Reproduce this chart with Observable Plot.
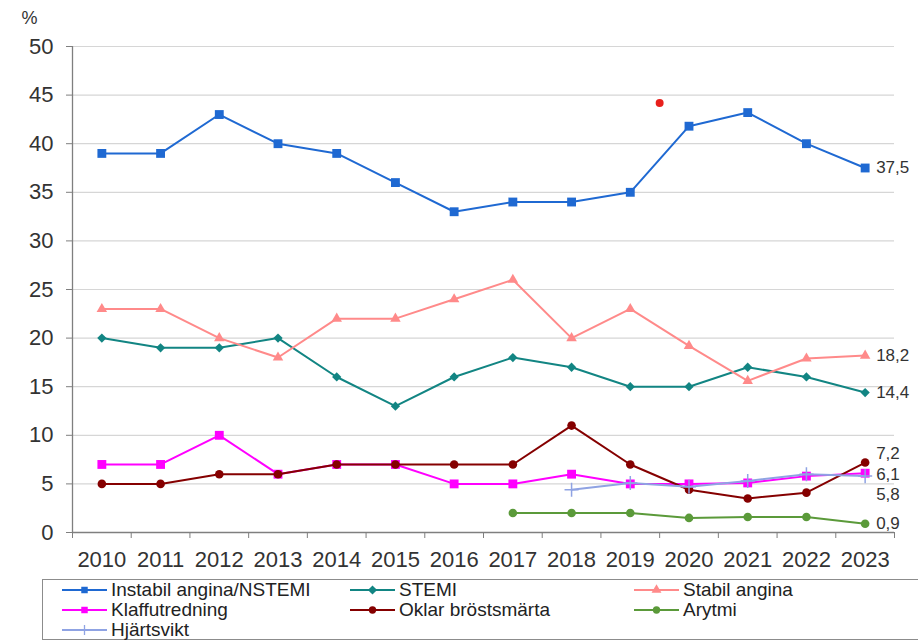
<!DOCTYPE html>
<html>
<head>
<meta charset="utf-8">
<script src="https://cdn.jsdelivr.net/npm/d3@7"></script>
<script src="https://cdn.jsdelivr.net/npm/@observablehq/plot@0.6"></script>
<style>
  body { margin: 0; background: #fff; font-family: "Liberation Sans", Arial, sans-serif; }
  #wrap { position: relative; width: 918px; height: 641px; overflow: hidden; }
  #chart { position: absolute; left: 0; top: 0; }
  #legend { position: absolute; left: 42px; top: 579px; width: 890px; height: 61px; border: 1px solid #8c8c8c; box-sizing: border-box; }
  .item { position: absolute; display: flex; align-items: center; height: 20px; }
  .item span { display: inline-block; font-size: 19px; color: #222; white-space: nowrap; margin-left: 3px; }
</style>
</head>
<body>
<div id="wrap"><div id="chart"></div><div id="legend"></div></div>
<script>
const years = [2010, 2011, 2012, 2013, 2014, 2015, 2016, 2017, 2018, 2019, 2020, 2021, 2022, 2023];
const seriesNames = ["Instabil angina/NSTEMI", "STEMI", "Stabil angina", "Klaffutredning", "Oklar bröstsmärta", "Arytmi", "Hjärtsvikt"];
const seriesColors = ["#1f69d2", "#128583", "#ff8a8a", "#ff00ff", "#850000", "#5b9a3a", "#8fa3e3"];
const seriesSymbols = ["square", "diamond", "triangle", "square", "circle", "circle", "plus"];
const instabil = [39, 39, 43, 40, 39, 36, 33, 34, 34, 35, 41.8, 43.2, 40, 37.5];
const stemi = [20, 19, 19, 20, 16, 13, 16, 18, 17, 15, 15, 17, 16, 14.4];
const stabil = [23, 23, 20, 18, 22, 22, 24, 26, 20, 23, 19.2, 15.6, 17.9, 18.2];
const klaff = [7, 7, 10, 6, 7, 7, 5, 5, 6, 5, 5, 5.1, 5.8, 6.1];
const oklar = [5, 5, 6, 6, 7, 7, 7, 7, 11, 7, 4.4, 3.5, 4.1, 7.2];
const arytmi = [null, null, null, null, null, null, null, 2, 2, 2, 1.5, 1.6, 1.6, 0.9];
const hjartsvikt = [null, null, null, null, null, null, null, null, 4.4, 5.1, 4.7, 5.3, 6.0, 5.8];
const endLabels = ["37,5", "14,4", "18,2", "6,1", "7,2", "0,9", "5,8"];
const endLabelShift = [0, 0, 0, 1, -9, 0, 18];
const strayPoint = [{year: 2019.5, value: 44.2}];
const yTicks = [0, 5, 10, 15, 20, 25, 30, 35, 40, 45, 50];
const xBoundaries = [2009.5, 2010.5, 2011.5, 2012.5, 2013.5, 2014.5, 2015.5, 2016.5, 2017.5, 2018.5, 2019.5, 2020.5, 2021.5, 2022.5, 2023.5];

const allValues = [instabil, stemi, stabil, klaff, oklar, arytmi, hjartsvikt];
const rows = [];
allValues.forEach((vals, si) => vals.forEach((v, i) => {
  if (v != null) rows.push({series: seriesNames[si], year: years[i], value: v});
}));
const ends = allValues.map((vals, si) => ({series: seriesNames[si], year: years[years.length - 1], value: vals[vals.length - 1], text: endLabels[si], shift: endLabelShift[si]}));

// rotated-square (Excel-style) diamond
const diamondSym = {draw(ctx, size) { const s = Math.sqrt(size / 2); ctx.moveTo(0, -s); ctx.lineTo(s, 0); ctx.lineTo(0, s); ctx.lineTo(-s, 0); ctx.closePath(); }};
const symFor = s => s === "diamond" ? diamondSym : s;
const rFor = s => ({square: 5, diamond: 3.7, triangle: 3.9, circle: 4.3, plus: 4.6})[s];

const marks = [
  Plot.gridY(yTicks, {stroke: "#d6d6d6", strokeOpacity: 1, strokeWidth: 1.2}),
  Plot.ruleX([2009.5], {stroke: "#7f7f7f", strokeWidth: 1.3}),
  Plot.ruleY([0], {stroke: "#7f7f7f", strokeWidth: 1.3}),
  Plot.axisY({ticks: yTicks, tickSize: 6, tickPadding: 13, fontSize: 22, label: "%", labelAnchor: "top", labelArrow: "none", labelOffset: 51, stroke: "#7f7f7f"}),
  Plot.axisX({ticks: xBoundaries, tickSize: 6, tickFormat: () => "", stroke: "#7f7f7f", label: null}),
  Plot.axisX({ticks: years, tickSize: 0, tickPadding: 19, fontSize: 22, tickFormat: d => String(d), label: null})
];
seriesNames.forEach((name, si) => {
  const data = rows.filter(r => r.series === name);
  marks.push(Plot.line(data, {x: "year", y: "value", stroke: seriesColors[si], strokeWidth: 2}));
  const sym = seriesSymbols[si];
  const stroked = sym === "plus";
  marks.push(Plot.dot(data, {x: "year", y: "value", symbol: () => symFor(sym), r: rFor(sym),
    fill: stroked ? "none" : seriesColors[si], stroke: stroked ? seriesColors[si] : "none", strokeWidth: 1.5}));
});
marks.push(Plot.dot(strayPoint, {x: "year", y: "value", r: 4, fill: "#e8201c"}));
[...new Set(endLabelShift)].forEach(s => {
  marks.push(Plot.text(ends.filter(e => e.shift === s), {x: "year", y: "value", text: "text", dx: 11, dy: s, textAnchor: "start", fontSize: 17, fill: "#333"}));
});

const chart = Plot.plot({
  width: 918, height: 575,
  marginLeft: 72, marginRight: 24, marginTop: 46, marginBottom: 43,
  x: {domain: [2009.5, 2023.5]},
  y: {domain: [0, 50]},
  style: {fontFamily: "Liberation Sans, Arial, sans-serif", color: "#333", background: "#fff"},
  marks
});
document.getElementById("chart").appendChild(chart);
d3.select(chart).selectAll('g[aria-label="y-axis label"] text').each(function() {
  const t = this.getAttribute("transform") || "";
  this.setAttribute("transform", t + " translate(0,8)");
  this.setAttribute("font-size", "18");
});

// Legend
const legend = d3.select("#legend");
const colLeft = [19, 307, 591];
const symMap = {square: d3.symbolSquare, diamond: diamondSym, triangle: d3.symbolTriangle, circle: d3.symbolCircle};
seriesNames.forEach((name, si) => {
  const col = si % 3, row = Math.floor(si / 3);
  const item = legend.append("div").attr("class", "item")
    .style("left", colLeft[col] + "px").style("top", (0 + row * 20) + "px");
  const svg = item.append("svg").attr("width", 46).attr("height", 14);
  svg.append("line").attr("x1", 0).attr("x2", 45).attr("y1", 7).attr("y2", 7).attr("stroke", seriesColors[si]).attr("stroke-width", 2);
  const stroked = seriesSymbols[si] === "plus";
  svg.append("path").attr("transform", "translate(22.5,7)")
    .attr("d", stroked ? "M-5,0H5M0,-5V5" : d3.symbol(symMap[seriesSymbols[si]], 42)())
    .attr("fill", stroked ? "none" : seriesColors[si]).attr("stroke", stroked ? seriesColors[si] : "none").attr("stroke-width", 1.3);
  item.append("span").text(name);
});
</script>
</body>
</html>
